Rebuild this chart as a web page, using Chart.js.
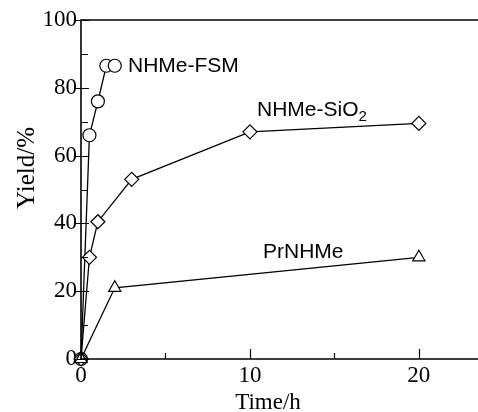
<!DOCTYPE html>
<html><head><meta charset="utf-8">
<script src="https://cdn.jsdelivr.net/npm/chart.js@4/dist/chart.umd.min.js"></script>
<style>html,body{margin:0;padding:0;background:#fff}#wrap{width:478px;height:412px}</style>
</head><body><div id="wrap"><canvas id="c" width="478" height="412"></canvas></div>
<script>
const fsmTime = [0, 0.5, 1, 1.5, 2];
const fsmYield = [0, 66, 76, 86.5, 86.5];
const sioTime = [0, 0.5, 1, 3, 10, 20];
const sioYield = [0, 30, 40.5, 53, 67, 69.5];
const prTime = [0, 2, 20];
const prYield = [0, 21, 30];
const xTicks = [0, 10, 20];
const yTicks = [0, 20, 40, 60, 80, 100];
const xMinor = [5, 15];
const yMinor = [10, 30, 50, 70, 90];
const labels = ["NHMe-FSM", "NHMe-SiO", "PrNHMe"];
const xTitle = "Time/h";
const yTitle = "Yield/%";

const SERIF = '"Liberation Serif", "Times New Roman", Times, serif';
const SANS = '"Liberation Sans", Arial, Helvetica, sans-serif';
const pts = (xs, ys) => xs.map((x, i) => ({x, y: ys[i]}));
const base = {showLine: true, borderColor: '#000', borderWidth: 1.3, pointBackgroundColor: '#fff',
  pointBorderColor: '#000', pointBorderWidth: 1.2, clip: false, tension: 0};

const frame = {
  id: 'frame',
  afterDraw(chart) {
    const ctx = chart.ctx, a = chart.chartArea, xs = chart.scales.x, ys = chart.scales.y;
    ctx.save();
    ctx.strokeStyle = '#000'; ctx.lineWidth = 1.6;
    ctx.beginPath();
    ctx.moveTo(478, a.top); ctx.lineTo(a.left, a.top); ctx.lineTo(a.left, a.bottom); ctx.lineTo(478, a.bottom);
    ctx.stroke();
    ctx.lineWidth = 1.2;
    ctx.beginPath();
    yTicks.forEach(v => { const y = Math.round(ys.getPixelForValue(v)) + 0.5; ctx.moveTo(a.left - 6, y); ctx.lineTo(a.left + 8, y); });
    yMinor.forEach(v => { const y = Math.round(ys.getPixelForValue(v)) + 0.5; ctx.moveTo(a.left, y); ctx.lineTo(a.left + 7, y); });
    xTicks.forEach(v => { const x = Math.round(xs.getPixelForValue(v)) + 0.5; ctx.moveTo(x, a.bottom); ctx.lineTo(x, a.bottom - 10); });
    xMinor.forEach(v => { const x = Math.round(xs.getPixelForValue(v)) + 0.5; ctx.moveTo(x, a.bottom); ctx.lineTo(x, a.bottom - 6); });
    ctx.stroke();
    ctx.fillStyle = '#000';
    ctx.textBaseline = 'alphabetic'; ctx.textAlign = 'left';
    ctx.font = '21px ' + SANS;
    ctx.fillText(labels[0], 128, 72);
    ctx.fillText(labels[1], 257, 116);
    const w = ctx.measureText(labels[1]).width;
    ctx.font = '15px ' + SANS;
    ctx.fillText('2', 257 + w, 121);
    ctx.font = '21px ' + SANS;
    ctx.fillText(labels[2], 263, 258);
    // axis titles
    ctx.font = '23px ' + SERIF;
    ctx.textAlign = 'center';
    ctx.fillText(xTitle, 268, 409);
    ctx.translate(34, 168);
    ctx.rotate(-Math.PI / 2);
    ctx.font = '25px ' + SERIF;
    ctx.fillText(yTitle, 0, 0);
    ctx.restore();
  }
};

new Chart(document.getElementById('c'), {
  type: 'scatter',
  data: {datasets: [
    {...base, label: 'PrNHMe', data: pts(prTime, prYield), pointStyle: 'triangle', pointRadius: 7},
    {...base, label: 'NHMe-SiO2', data: pts(sioTime, sioYield), pointStyle: 'rectRot', pointRadius: 7},
    {...base, label: 'NHMe-FSM', data: pts(fsmTime, fsmYield), pointStyle: 'circle', pointRadius: 6.5},
  ]},
  options: {
    responsive: false, animation: false, devicePixelRatio: 1,
    layout: {autoPadding: false, padding: {top: 20, right: 0, left: 0, bottom: 0}},
    plugins: {legend: {display: false}, tooltip: {enabled: false}},
    scales: {
      x: {type: 'linear', min: 0, max: 23.5,
        afterFit: s => { s.height = 53; s.paddingLeft = 0; s.paddingRight = 0; },
        grid: {display: false, drawTicks: false}, border: {display: false},
        afterBuildTicks: s => { s.ticks = xTicks.map(v => ({value: v})); },
        ticks: {padding: 3, color: '#000', font: {family: SERIF, size: 23}, maxRotation: 0}
      },
      y: {type: 'linear', min: 0, max: 100,
        afterFit: s => { s.width = 81; s.paddingTop = 0; s.paddingBottom = 0; },
        grid: {display: false, drawTicks: false}, border: {display: false},
        afterBuildTicks: s => { s.ticks = yTicks.map(v => ({value: v})); },
        ticks: {padding: 4, color: '#000', font: {family: SERIF, size: 23}}
      }
    }
  },
  plugins: [frame]
});
</script></body></html>
